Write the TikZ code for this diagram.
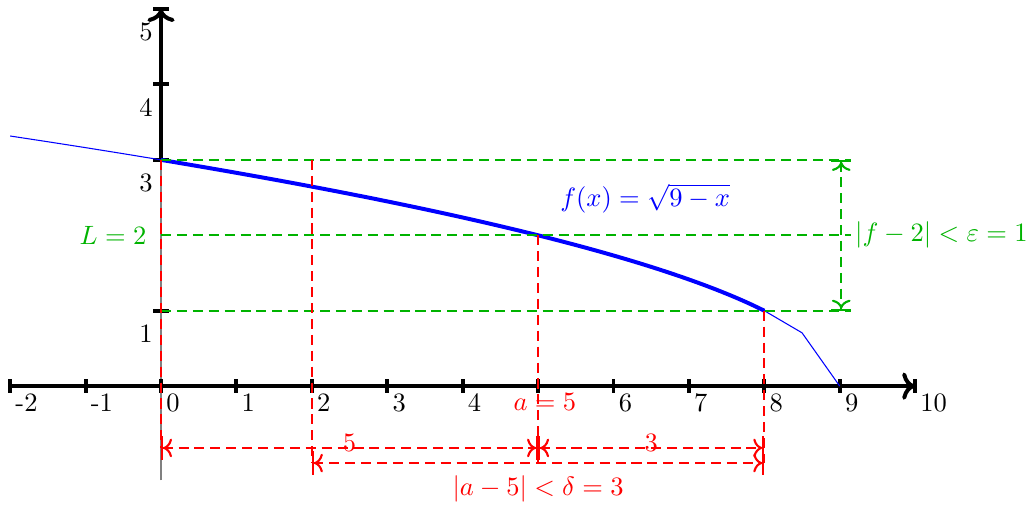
\documentclass[tikz,border=0pt]{standalone}
\usetikzlibrary{arrows.meta, calc}
\definecolor{cgreen}{RGB}{0,179,0}
\tikzset{
  axis/.style={line width=1.5pt, ->},
  tickmark/.style={line width=1.5pt},
  ticklabel/.style={inner sep=1.8pt, anchor=north west},
  ylabel/.style={inner sep=3pt, anchor=north east},
  reddash/.style={red, line width=0.8pt, dash pattern=on 3.8pt off 2.2pt},
  greendash/.style={cgreen, line width=0.8pt, dash pattern=on 3.8pt off 2.2pt},
  reddim/.style={reddash, {Bar[width=9pt]To[]}-{To[]Bar[width=9pt]}},
  greendim/.style={greendash, {Bar[width=7.5pt]To[]}-{To[]Bar[width=7.5pt]}},
}

\begin{document}
\begin{tikzpicture}
  \useasboundingbox (-2.135,-1.565) rectangle (11.47,5.12);
  % axes
  \draw[gray, line width=0.8pt] (0,-1.25) -- (0,3);
  \draw[axis] (-2,0) -- (10,0);
  \draw[axis] (0,3) -- (0,5);
  \foreach \x in {-2,...,10} {
    \draw[tickmark] (\x,-0.09) -- (\x,0.09);
  }
  \foreach \x in {-2,...,4,6,7,8,9,10} {
    \node[ticklabel] (xl\x) at (\x,-0.03) {\x};
  }
  \foreach \y in {1,3,4,5} {
    \draw[tickmark] (-0.1,\y) -- (0.1,\y);
    \node[ylabel] (yl\y) at (0,\y-0.07) {\y};
  }
  \node[ticklabel, anchor=north, text=red] (aval) at (5.09,-0.03) {$a=5$};
  % the function
  \draw[blue, line width=0.4pt, domain=-2:9, samples=23] plot (\x,{sqrt(max(9-\x,0))});
  \draw[blue, line width=1.5pt, domain=0:8, samples=40, smooth] plot (\x,{sqrt(9-\x)});
  \node[blue] (flabel) at (6.42,2.49) {$f(x)=\sqrt{9-x}$};
  % epsilon band
  \foreach \y in {1,2,3} {
    \draw[greendash] (0,\y) -- (9.15,\y);
  }
  \coordinate (etop) at (9.02,3);
  \coordinate (ebot) at (9.02,1);
  \draw[greendim] (etop) -- (ebot);
  \node[cgreen, anchor=west] (eps) at (9.08,2) {$|f-2|<\varepsilon=1$};
  \node[cgreen, anchor=east] (Llabel) at (-0.07,2) {$L=2$};
  % delta band
  \draw[reddash] (0,3) -- (0,-0.82);
  \draw[reddash] (2,3) -- (2,-1.02);
  \draw[reddash] (5,2) -- (5,-1.02);
  \draw[reddash] (8,1) -- (8,-1.02);
  \coordinate (u0) at (0,-0.82);
  \coordinate (u5) at (5,-0.82);
  \coordinate (u8) at (8,-0.82);
  \coordinate (l2) at (2,-1.02);
  \coordinate (l8) at (8,-1.02);
  \draw[reddim] (u0) -- node[red, anchor=base, yshift=-1.5pt] (dfive) {5} (u5);
  \draw[reddim] (u5) -- node[red, anchor=base, yshift=-1.5pt] (dthree) {3} (u8);
  \draw[reddim] (l2) -- node[red, below=1pt] (delta) {$|a-5|<\delta=3$} (l8);
\end{tikzpicture}
\end{document}
